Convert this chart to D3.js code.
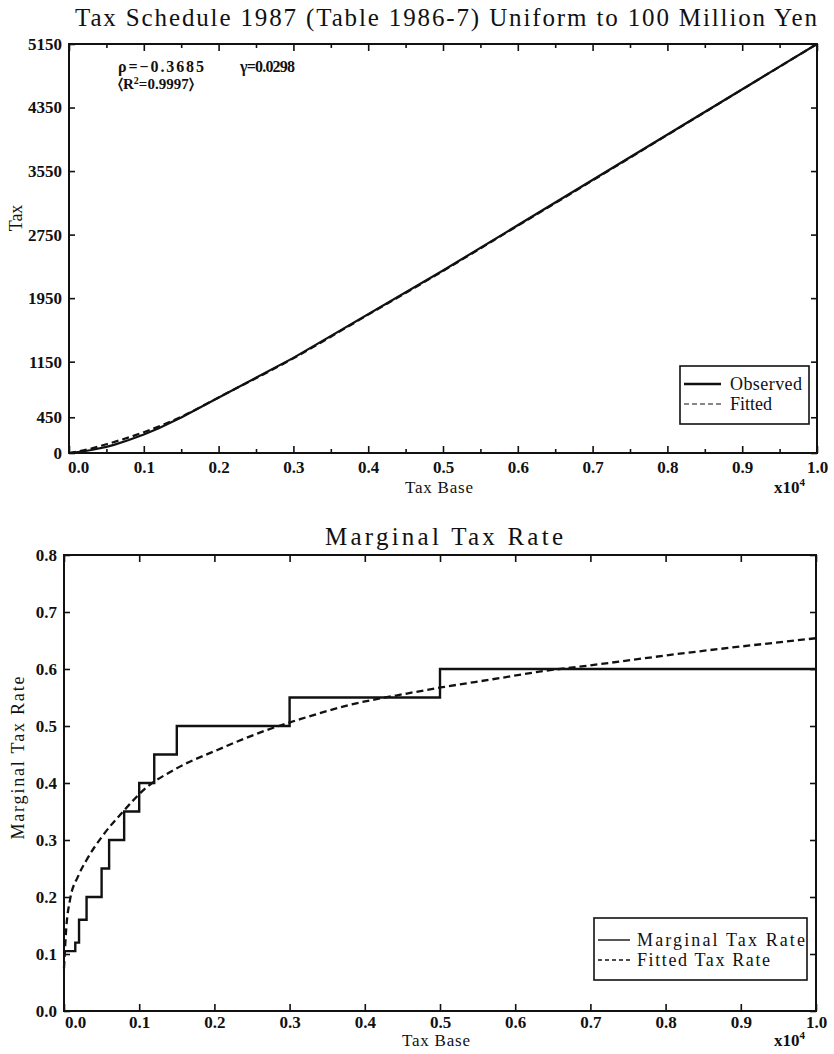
<!DOCTYPE html>
<html>
<head>
<meta charset="utf-8">
<script src="https://cdn.jsdelivr.net/npm/d3@7"></script>
<style>
  html, body { margin: 0; padding: 0; background: #fff; }
  svg { display: block; }
</style>
</head>
<body>
<svg id="chart" width="834" height="1054"></svg>
<script>
// ---------------- DATA ----------------
// Top panel: tax (observed vs fitted) against tax base (x10^4)
const obsBase = [0, 0.015, 0.02, 0.03, 0.05, 0.06, 0.08, 0.10, 0.12, 0.15, 0.30, 0.50, 1.00];
const obsTax  = [0, 16, 22, 38, 78, 103, 163, 233, 313, 448, 1198, 2298, 5150];
const fitBase = [0, 0.025, 0.05, 0.10, 0.15, 0.20, 0.30, 0.40, 0.50, 0.60, 0.70, 0.80, 0.90, 1.00];
const fitTax  = [0, 45, 110, 262, 455, 700, 1192, 1742, 2292, 2862, 3432, 4005, 4578, 5150];

// Bottom panel: marginal tax rate schedule (step) and fitted rate
const bracketStart = [0, 0.015, 0.02, 0.03, 0.05, 0.06, 0.08, 0.10, 0.12, 0.15, 0.30, 0.50, 1.00];
const bracketRate  = [0.105, 0.12, 0.16, 0.20, 0.25, 0.30, 0.35, 0.40, 0.45, 0.50, 0.55, 0.60, 0.60];
const fitRateBase  = [0, 0.003, 0.008, 0.019, 0.03, 0.05, 0.08, 0.106, 0.146, 0.204, 0.27, 0.314, 0.38, 0.456, 0.503, 0.57, 0.641, 0.685, 0.826, 1.0];
const fitRate      = [0.075, 0.145, 0.195, 0.237, 0.265, 0.305, 0.352, 0.388, 0.423, 0.458, 0.493, 0.512, 0.537, 0.557, 0.568, 0.582, 0.597, 0.604, 0.628, 0.654];

// Tick values / labels
const xTicks = [0, 0.1, 0.2, 0.3, 0.4, 0.5, 0.6, 0.7, 0.8, 0.9, 1.0];
const xMinorTicks = [0.05, 0.15, 0.25, 0.35, 0.45, 0.55, 0.65, 0.75, 0.85, 0.95];
const yTicksTop = [0, 450, 1150, 1950, 2750, 3550, 4350, 5150];
const yTicksBot = [0, 0.1, 0.2, 0.3, 0.4, 0.5, 0.6, 0.7, 0.8];

const titleTop = "Tax Schedule 1987 (Table 1986-7) Uniform to 100 Million Yen";
const titleBot = "Marginal Tax Rate";
const legendTop = ["Observed", "Fitted"];
const legendBot = ["Marginal Tax Rate", "Fitted Tax Rate"];

// ---------------- DRAW ----------------
const FONT = "'Liberation Serif', 'Times New Roman', Tinos, 'DejaVu Serif', serif";
const svg = d3.select("#chart").attr("font-family", FONT);

function panel(cfg) {
  const g = svg.append("g");
  const x = d3.scaleLinear().domain([0, 1]).range([cfg.left, cfg.right]);
  const y = d3.scaleLinear().domain(cfg.yDomain).range([cfg.bottom, cfg.top]);

  const ax = g.append("g").attr("transform", `translate(0,${cfg.bottom})`)
    .call(d3.axisBottom(x).tickValues(xTicks).tickSizeInner(-7).tickSizeOuter(0)
      .tickPadding(cfg.xPad).tickFormat(d3.format(".1f")));
  ax.selectAll("text").attr("font-size", 17).attr("font-weight", "bold").attr("dy", "0.71em");
  ax.selectAll("text").filter(d => d === 0).attr("dx", cfg.zeroDx);
  g.append("g").attr("transform", `translate(0,${cfg.top})`)
    .call(d3.axisTop(x).tickValues(xTicks).tickSizeInner(-7).tickSizeOuter(0).tickFormat(""));
  if (cfg.minor) {
    g.append("g").attr("transform", `translate(0,${cfg.bottom})`)
      .call(d3.axisBottom(x).tickValues(xMinorTicks).tickSizeInner(-4).tickSizeOuter(0).tickFormat(""));
    g.append("g").attr("transform", `translate(0,${cfg.top})`)
      .call(d3.axisTop(x).tickValues(xMinorTicks).tickSizeInner(-4).tickSizeOuter(0).tickFormat(""));
  }
  const ay = g.append("g").attr("transform", `translate(${cfg.left},0)`)
    .call(d3.axisLeft(y).tickValues(cfg.yTicks).tickSizeInner(-6).tickSizeOuter(0)
      .tickPadding(7).tickFormat(cfg.yFormat));
  ay.selectAll("text").attr("font-size", 17).attr("font-weight", "bold");
  g.append("g").attr("transform", `translate(${cfg.right},0)`)
    .call(d3.axisRight(y).tickValues(cfg.yTicks).tickSizeInner(-6).tickSizeOuter(0).tickFormat(""));

  g.selectAll(".domain").remove();
  g.selectAll(".tick line").attr("stroke", "#111").attr("stroke-width", 1.6);

  g.append("rect").attr("x", cfg.left).attr("y", cfg.top)
    .attr("width", cfg.right - cfg.left).attr("height", cfg.bottom - cfg.top)
    .attr("fill", "none").attr("stroke", "#111").attr("stroke-width", 2);

  g.append("text").attr("x", (cfg.left + cfg.right) / 2 - 4).attr("y", cfg.bottom + cfg.labelDy)
    .attr("text-anchor", "middle").attr("font-size", 17)
    .attr("textLength", 68).attr("lengthAdjust", "spacing").text("Tax Base");
  const mul = g.append("text").attr("x", 774).attr("y", cfg.bottom + cfg.labelDy)
    .attr("font-size", 17).attr("font-weight", "bold");
  mul.append("tspan").text("x10");
  mul.append("tspan").attr("font-size", 11).attr("dy", -7).text("4");

  return { g, x, y };
}

// ---- Top panel ----
const P1 = panel({
  left: 69, right: 817, top: 44, bottom: 453,
  yDomain: [0, 5150], yTicks: yTicksTop, yFormat: d3.format("d"),
  minor: true, zeroDx: 9, labelDy: 40, xPad: 8
});

svg.append("text").attr("x", 75).attr("y", 26).attr("font-size", 25)
  .attr("textLength", 742).attr("lengthAdjust", "spacing").text(titleTop);

const obsData = obsBase.map((b, i) => [b, obsTax[i]]);
const fitData = fitBase.map((b, i) => [b, fitTax[i]]);
const line1 = d3.line().x(d => P1.x(d[0])).y(d => P1.y(d[1]));
const line1f = d3.line().x(d => P1.x(d[0])).y(d => P1.y(d[1])).curve(d3.curveMonotoneX);

P1.g.append("path").datum(fitData).attr("d", line1f)
  .attr("fill", "none").attr("stroke", "#111").attr("stroke-width", 2.2).attr("stroke-dasharray", "7,4");
P1.g.append("path").datum(obsData).attr("d", line1)
  .attr("fill", "none").attr("stroke", "#111").attr("stroke-width", 2.2);

// annotation
svg.append("text").attr("x", 118).attr("y", 72).attr("font-size", 16).attr("font-weight", "bold")
  .attr("textLength", 86).attr("lengthAdjust", "spacing").text("\u03C1=\u22120.3685");
svg.append("text").attr("x", 240).attr("y", 72).attr("font-size", 16).attr("font-weight", "bold")
  .attr("textLength", 55).attr("lengthAdjust", "spacing").text("\u03B3=0.0298");
svg.append("text").attr("x", 118).attr("y", 89).attr("font-size", 15).attr("font-weight", "bold")
  .html("\u2329R<tspan font-size='10' dy='-5'>2</tspan><tspan dy='5'>=0.9997\u232A</tspan>");

// top legend
const lg1 = svg.append("g");
lg1.append("rect").attr("x", 680).attr("y", 366).attr("width", 129).attr("height", 58)
  .attr("fill", "#fff").attr("stroke", "#111").attr("stroke-width", 1.6);
lg1.append("line").attr("x1", 684).attr("x2", 721).attr("y1", 384).attr("y2", 384)
  .attr("stroke", "#111").attr("stroke-width", 2.4);
lg1.append("line").attr("x1", 684).attr("x2", 721).attr("y1", 404).attr("y2", 404)
  .attr("stroke", "#111").attr("stroke-width", 1.2).attr("stroke-dasharray", "5,3");
lg1.append("text").attr("x", 730).attr("y", 390).attr("font-size", 18)
  .attr("textLength", 72).attr("lengthAdjust", "spacing").text(legendTop[0]);
lg1.append("text").attr("x", 730).attr("y", 410).attr("font-size", 18).text(legendTop[1]);

// ---- Bottom panel ----
const P2 = panel({
  left: 64, right: 816, top: 555, bottom: 1011,
  yDomain: [0, 0.8], yTicks: yTicksBot, yFormat: d3.format(".1f"),
  minor: false, zeroDx: 11, labelDy: 35, xPad: 5
});
svg.append("text").attr("x", 325).attr("y", 545).attr("font-size", 25)
  .attr("textLength", 238).attr("lengthAdjust", "spacing").text(titleBot);

const stepData = bracketStart.map((b, i) => [b, bracketRate[i]]);
const fitRData = fitRateBase.map((b, i) => [b, fitRate[i]]);
const stepLine = d3.line().x(d => P2.x(d[0])).y(d => P2.y(d[1])).curve(d3.curveStepAfter);
const fitLine = d3.line().x(d => P2.x(d[0])).y(d => P2.y(d[1])).curve(d3.curveMonotoneX);

P2.g.append("path").datum(fitRData).attr("d", fitLine)
  .attr("fill", "none").attr("stroke", "#111").attr("stroke-width", 2.3).attr("stroke-dasharray", "7,4");
P2.g.append("path").datum(stepData).attr("d", stepLine)
  .attr("fill", "none").attr("stroke", "#111").attr("stroke-width", 2.4);

// y labels
svg.append("text").attr("transform", "translate(22,218) rotate(-90)")
  .attr("text-anchor", "middle").attr("font-size", 18).text("Tax");
svg.append("text").attr("transform", "translate(24,758) rotate(-90)")
  .attr("text-anchor", "middle").attr("font-size", 18)
  .attr("textLength", 163).attr("lengthAdjust", "spacing").text("Marginal Tax Rate");

// bottom legend
const lg2 = svg.append("g");
lg2.append("rect").attr("x", 594).attr("y", 918).attr("width", 213).attr("height", 62)
  .attr("fill", "#fff").attr("stroke", "#111").attr("stroke-width", 1.6);
lg2.append("line").attr("x1", 598).attr("x2", 630).attr("y1", 940).attr("y2", 940)
  .attr("stroke", "#111").attr("stroke-width", 1.4);
lg2.append("line").attr("x1", 598).attr("x2", 630).attr("y1", 960).attr("y2", 960)
  .attr("stroke", "#111").attr("stroke-width", 1.6).attr("stroke-dasharray", "4,3");
lg2.append("text").attr("x", 637).attr("y", 946).attr("font-size", 18)
  .attr("textLength", 168).attr("lengthAdjust", "spacing").text(legendBot[0]);
lg2.append("text").attr("x", 637).attr("y", 966).attr("font-size", 18)
  .attr("textLength", 133).attr("lengthAdjust", "spacing").text(legendBot[1]);

// force serif font on every text (axes set their own family)
svg.selectAll("text").style("font-family", FONT).style("fill", "#111");
</script>
</body>
</html>
